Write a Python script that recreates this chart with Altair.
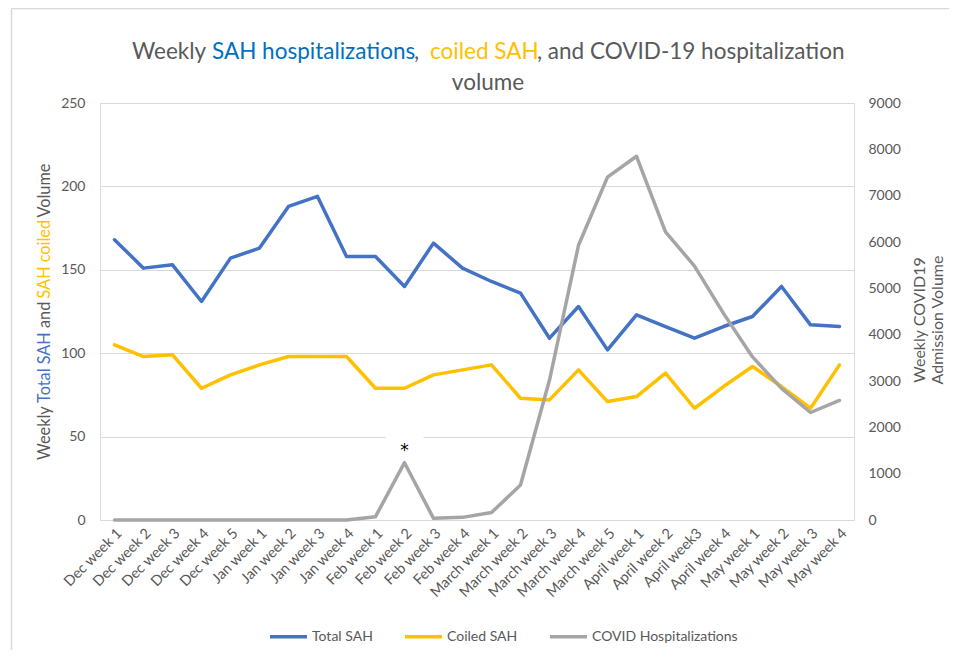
import altair as alt
import pandas as pd

categories = [
    "Dec week 1", "Dec week 2", "Dec week 3", "Dec week 4", "Dec week 5",
    "Jan week 1", "Jan week 2", "Jan week 3", "Jan week 4",
    "Feb week 1", "Feb week 2", "Feb week 3", "Feb week 4",
    "March week 1", "March week 2", "March week 3", "March week 4", "March week 5",
    "April week 1", "April week 2", "April week3", "April week 4",
    "May week 1", "May week 2", "May week 3", "May week 4",
]
total_sah = [168, 151, 153, 131, 157, 163, 188, 194, 158, 158, 140, 166, 151,
             143, 136, 109, 128, 102, 123, 116, 109, 116, 122, 140, 117, 116]
coiled_sah = [105, 98, 99, 79, 87, 93, 98, 98, 98, 79, 79, 87, 90,
              93, 73, 72, 90, 71, 74, 88, 67, 80, 92, 80, 67, 93]
covid_hosp = [0, 0, 0, 0, 0, 0, 0, 0, 0, 72, 1237, 36, 57,
              160, 755, 3020, 5930, 7400, 7850, 6220, 5480, 4460, 3520, 2840, 2320, 2580]
series_names = ["Total SAH", "Coiled SAH", "COVID Hospitalizations"]
series_colors = ["#4472C4", "#FFC000", "#A5A5A5"]
left_ticks = [0, 50, 100, 150, 200, 250]
right_ticks = [0, 1000, 2000, 3000, 4000, 5000, 6000, 7000, 8000, 9000]
note_category = "Feb week 2"
note_text = "*"

# multi-coloured title pieces
title_pieces = ["Weekly", "SAH hospitalizations", ",", "coiled SAH",
                ", and COVID-19 hospitalization"]
title_line2 = "volume"
ytitle_pieces = ["Weekly", "Total SAH", "and", "SAH coiled", "Volume"]
y2title_lines = ["Weekly COVID19", "Admission Volume"]

FONT = "Lato"
GRAY = "#595959"
BLUE_T = "#0070C0"
BLUE_A = "#4472C4"
GOLD = "#FFC000"
W, H = 754, 417

n = len(categories)
sah_df = pd.DataFrame({
    "week": categories * 2,
    "value": total_sah + coiled_sah,
    "series": [series_names[0]] * n + [series_names[1]] * n,
})
covid_df = pd.DataFrame({"week": categories, "value": covid_hosp,
                         "series": [series_names[2]] * n})
note_df = covid_df[covid_df["week"] == note_category].assign(note=note_text)

x_enc = alt.X("week:N", sort=categories,
              scale=alt.Scale(domain=categories, padding=0.5),
              axis=alt.Axis(title=None, labelAngle=-45, domain=False, ticks=False,
                            grid=False, labelPadding=6, labelFont=FONT,
                            labelFontSize=14.5, labelColor=GRAY))
color_enc = alt.Color("series:N",
                      scale=alt.Scale(domain=series_names, range=series_colors),
                      legend=alt.Legend(title=None, orient="none", direction="horizontal",
                                        legendX=168, legendY=513, symbolType="stroke",
                                        symbolSize=1369, symbolStrokeWidth=3.5,
                                        labelFont=FONT, labelFontSize=14,
                                        labelColor=GRAY, columnPadding=25,
                                        labelOffset=3))

sah_lines = alt.Chart(sah_df).mark_line(strokeWidth=3.5, strokeCap="round",
                                        strokeJoin="round").encode(
    x=x_enc,
    y=alt.Y("value:Q", scale=alt.Scale(domain=[0, 250]),
            axis=alt.Axis(title=None, values=left_ticks, grid=True, gridColor="#D9D9D9",
                          domain=False, ticks=False, labelPadding=15, labelFont=FONT,
                          labelFontSize=14, labelColor=GRAY)),
    color=color_enc,
)

y_right = alt.Y("value:Q", scale=alt.Scale(domain=[0, 9000]),
                axis=alt.Axis(title=None, orient="right", values=right_ticks, grid=False,
                              domain=False, ticks=False, labelPadding=14, labelFont=FONT,
                              labelFontSize=14, labelColor=GRAY, format="d"))

note_box = alt.Chart(note_df).mark_square(color="white", size=1444, opacity=1,
                                          yOffset=-16).encode(x=x_enc, y=y_right)
covid_line = alt.Chart(covid_df).mark_line(strokeWidth=3.5, strokeCap="round",
                                           strokeJoin="round").encode(
    x=x_enc, y=y_right, color=color_enc)
note_star = alt.Chart(note_df).mark_text(fontSize=17, font="DejaVu Sans", color="black",
                                         baseline="middle", dy=-12).encode(
    x=x_enc, y=y_right, text="note:N")
covid_layer = alt.layer(note_box, covid_line, note_star)


def label(txt, x, y, color, size, angle=0, align="left"):
    return alt.Chart(alt.Data(values=[{}])).mark_text(
        text=txt, align=align, baseline="middle", font=FONT, fontSize=size,
        color=color, angle=angle).encode(x=alt.value(x), y=alt.value(y))


border_left = alt.Chart(alt.Data(values=[{}])).mark_rule(color="#D9D9D9", strokeWidth=1.5).encode(
    x=alt.value(-88.5), y=alt.value(-94.5), y2=alt.value(600))
border_top = alt.Chart(alt.Data(values=[{}])).mark_rule(color="#D9D9D9", strokeWidth=1.5).encode(
    x=alt.value(-88.5), x2=alt.value(900), y=alt.value(-94.5))

TS = 22.5
AS = 16.3
title_x = [32, 112, 314, 330, 437]
title_c = [GRAY, BLUE_T, GRAY, GOLD, GRAY]
ytitle_y = [357, 300, 225, 195.5, 114.5]
ytitle_c = [GRAY, BLUE_A, GRAY, GOLD, GRAY]

titles = (
    [label(t, x, -51, c, TS) for t, x, c in zip(title_pieces, title_x, title_c)]
    + [label(title_line2, 388, -20, GRAY, TS, align="center")]
    + [label(t, -55, y, c, AS, angle=270) for t, y, c in zip(ytitle_pieces, ytitle_y, ytitle_c)]
    + [label(y2title_lines[0], 820, 217, GRAY, 16, angle=270, align="center"),
       label(y2title_lines[1], 838, 217, GRAY, 16, angle=270, align="center")]
)

chart = alt.layer(
    border_left, border_top, sah_lines, covid_layer, *titles
).resolve_scale(y="independent").properties(
    width=W, height=H,
    autosize=alt.AutoSizeParams(type="none"),
    padding={"left": 92, "top": 95, "right": 95, "bottom": 130},
).configure_view(stroke=None).configure(background="white")

chart.save("out.html", embed_options={"renderer": "svg", "actions": False})
